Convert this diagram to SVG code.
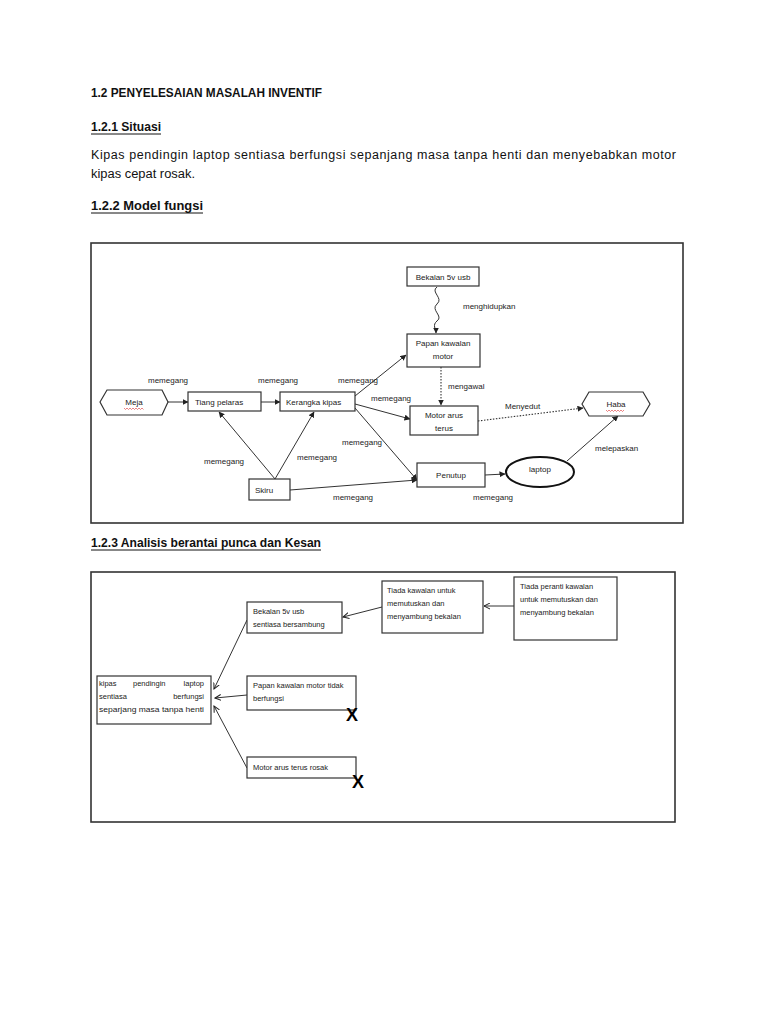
<svg xmlns="http://www.w3.org/2000/svg" width="768" height="1024" viewBox="0 0 768 1024">
<defs>
<style>
.t{font-family:"Liberation Sans",Arial,sans-serif;fill:#111}
.h{font-size:12.5px;font-weight:bold}
.p{font-size:12.5px}
.s{font-size:8px;fill:#222}
.b{font-size:8px;fill:#222}
.c{font-size:7.5px;fill:#222}
.box{fill:#fff;stroke:#333;stroke-width:1.2}
.frame{fill:none;stroke:#333;stroke-width:1.6}
.ln{fill:none;stroke:#333;stroke-width:1}
.dot{fill:none;stroke:#333;stroke-width:1.1;stroke-dasharray:1.5 1.5}
.ul{stroke:#111;stroke-width:1}
.sq{fill:none;stroke:#d33;stroke-width:0.6}
.x{font-family:"Liberation Sans",Arial,sans-serif;font-size:18px;font-weight:bold;fill:#000}
</style>
<marker id="af" markerWidth="6" markerHeight="6" refX="5.5" refY="3" orient="auto" markerUnits="userSpaceOnUse">
<path d="M0,0 L6,3 L0,6 Z" fill="#222"/>
</marker>
<marker id="ao" markerWidth="7" markerHeight="7" refX="6" refY="3.5" orient="auto" markerUnits="userSpaceOnUse">
<path d="M0,0.5 L6,3.5 L0,6.5" fill="none" stroke="#222" stroke-width="1"/>
</marker>
</defs>
<rect width="768" height="1024" fill="#fff"/>

<g id="headings">
<text class="t h" x="91" y="97" textLength="231" lengthAdjust="spacingAndGlyphs">1.2 PENYELESAIAN MASALAH INVENTIF</text>
<text class="t h" x="91" y="131" textLength="70" lengthAdjust="spacingAndGlyphs">1.2.1 Situasi</text>
<line class="ul" x1="91" y1="134" x2="161" y2="134"/>
<text class="t p" x="91" y="159" textLength="585" lengthAdjust="spacing">Kipas pendingin laptop sentiasa berfungsi sepanjang masa tanpa henti dan menyebabkan motor</text>
<text class="t p" x="91" y="178" textLength="104" lengthAdjust="spacingAndGlyphs">kipas cepat rosak.</text>
<text class="t h" x="91" y="210" textLength="112" lengthAdjust="spacingAndGlyphs">1.2.2  Model fungsi</text>
<line class="ul" x1="91" y1="213" x2="203" y2="213"/>
<text class="t h" x="91" y="547" textLength="230" lengthAdjust="spacingAndGlyphs">1.2.3  Analisis berantai punca dan Kesan</text>
<line class="ul" x1="91" y1="550" x2="321" y2="550"/>
</g>

<rect class="frame" x="91" y="243" width="592" height="280"/>
<rect class="frame" x="91" y="572" width="584" height="250"/>

<g id="connectors">
<line class="ln" x1="167" y1="402" x2="188" y2="402" marker-end="url(#af)"/>
<line class="ln" x1="261" y1="402" x2="280" y2="402" marker-end="url(#af)"/>
<line class="ln" x1="355" y1="396" x2="406" y2="355" marker-end="url(#af)"/>
<line class="ln" x1="355" y1="404" x2="410" y2="419" marker-end="url(#af)"/>
<line class="ln" x1="355" y1="408" x2="417" y2="480" marker-end="url(#af)"/>
<line class="ln" x1="275" y1="479" x2="219" y2="412" marker-end="url(#af)"/>
<line class="ln" x1="275" y1="479" x2="314" y2="412" marker-end="url(#af)"/>
<line class="ln" x1="290" y1="490" x2="417" y2="480" marker-end="url(#af)"/>
<line class="ln" x1="485" y1="475" x2="505" y2="474" marker-end="url(#af)"/>
<line class="ln" x1="567" y1="461" x2="618" y2="416" marker-end="url(#af)"/>
<path class="ln" d="M437,287 C430,292 444,298 437,304 C430,310 444,316 437,321 C432,325 436,329 436,333" marker-end="url(#af)"/>
<line class="dot" x1="441" y1="367" x2="441" y2="405" marker-end="url(#af)"/>
<line class="dot" x1="478" y1="421" x2="583" y2="408" marker-end="url(#af)"/>

<line class="ln" x1="514" y1="606" x2="484" y2="606" marker-end="url(#ao)"/>
<line class="ln" x1="382" y1="607" x2="343" y2="617" marker-end="url(#ao)"/>
<line class="ln" x1="247" y1="620" x2="214" y2="689" marker-end="url(#ao)"/>
<line class="ln" x1="247" y1="695" x2="215" y2="698" marker-end="url(#ao)"/>
<line class="ln" x1="247" y1="768" x2="214" y2="706" marker-end="url(#ao)"/>
</g>

<g id="edge-labels">
<text class="t s" x="148" y="383">memegang</text>
<text class="t s" x="258" y="383">memegang</text>
<text class="t s" x="338" y="383">memegang</text>
<text class="t s" x="371" y="401">memegang</text>
<text class="t s" x="342" y="445">memegang</text>
<text class="t s" x="204" y="464">memegang</text>
<text class="t s" x="297" y="460">memegang</text>
<text class="t s" x="333" y="500">memegang</text>
<text class="t s" x="473" y="500">memegang</text>
<text class="t s" x="463" y="309">menghidupkan</text>
<text class="t s" x="448" y="389">mengawal</text>
<text class="t s" x="505" y="409">Menyedut</text>
<text class="t s" x="595" y="451">melepaskan</text>
</g>

<g id="meja">
<polygon class="box" points="100,402 107,390 162,390 168,402 162,415 107,415"/>
<text class="t b" x="134" y="405" text-anchor="middle">Meja</text>
<path class="sq" d="M124,408 l1.5,1.5 l1.5,-1.5 l1.5,1.5 l1.5,-1.5 l1.5,1.5 l1.5,-1.5 l1.5,1.5 l1.5,-1.5 l1.5,1.5 l1.5,-1.5 l1.5,1.5 l1.5,-1.5 l1.5,1.5"/>
</g>
<g id="tiang-pelaras">
<rect class="box" x="188" y="392" width="73" height="19"/>
<text class="t b" x="195" y="405">Tiang pelaras</text>
</g>
<g id="kerangka-kipas">
<rect class="box" x="280" y="392" width="75" height="19"/>
<text class="t b" x="286" y="405">Kerangka kipas</text>
</g>
<g id="bekalan-5v-usb">
<rect class="box" x="407" y="267" width="72" height="19"/>
<text class="t b" x="443" y="280" text-anchor="middle">Bekalan 5v usb</text>
</g>
<g id="papan-kawalan-motor">
<rect class="box" x="407" y="334" width="73" height="33"/>
<text class="t b" x="443" y="346" text-anchor="middle">Papan kawalan</text>
<text class="t b" x="443" y="359" text-anchor="middle">motor</text>
</g>
<g id="motor-arus-terus">
<rect class="box" x="410" y="406" width="68" height="29"/>
<text class="t b" x="444" y="418" text-anchor="middle">Motor arus</text>
<text class="t b" x="444" y="431" text-anchor="middle">terus</text>
</g>
<g id="haba">
<polygon class="box" points="582,404 589,392 643,392 650,404 643,416 589,416"/>
<text class="t b" x="616" y="407" text-anchor="middle">Haba</text>
<path class="sq" d="M606,410 l1.5,1.5 l1.5,-1.5 l1.5,1.5 l1.5,-1.5 l1.5,1.5 l1.5,-1.5 l1.5,1.5 l1.5,-1.5 l1.5,1.5 l1.5,-1.5 l1.5,1.5 l1.5,-1.5"/>
</g>
<g id="skiru">
<rect class="box" x="249" y="479" width="41" height="21"/>
<text class="t b" x="255" y="493">Skiru</text>
</g>
<g id="penutup">
<rect class="box" x="417" y="463" width="68" height="24"/>
<text class="t b" x="451" y="478" text-anchor="middle">Penutup</text>
</g>
<g id="laptop">
<ellipse cx="540" cy="472" rx="34" ry="15" fill="#fff" stroke="#111" stroke-width="2"/>
<text class="t b" x="540" y="472" text-anchor="middle">laptop</text>
</g>

<g id="kipas-pendingin">
<rect class="box" x="97" y="676" width="114" height="48"/>
<text class="t c" y="686"><tspan x="99">kipas</tspan><tspan x="133">pendingin</tspan><tspan x="204" text-anchor="end">laptop</tspan></text>
<text class="t c" y="699"><tspan x="99">sentiasa</tspan><tspan x="204" text-anchor="end">berfungsi</tspan></text>
<text class="t c" x="99" y="712" textLength="105" lengthAdjust="spacingAndGlyphs">separjang masa tanpa henti</text>
</g>
<g id="bekalan-bersambung">
<rect class="box" x="247" y="602" width="95" height="31"/>
<text class="t c" x="253" y="614">Bekalan 5v usb</text>
<text class="t c" x="253" y="627">sentiasa bersambung</text>
</g>
<g id="papan-tidak-berfungsi">
<rect class="box" x="247" y="676" width="109" height="34"/>
<text class="t c" x="253" y="688">Papan kawalan motor tidak</text>
<text class="t c" x="253" y="701">berfungsi</text>
<text class="x" x="346" y="721">X</text>
</g>
<g id="motor-rosak">
<rect class="box" x="247" y="757" width="109" height="21"/>
<text class="t c" x="253" y="770">Motor arus terus rosak</text>
<text class="x" x="352" y="788">X</text>
</g>
<g id="tiada-kawalan">
<rect class="box" x="382" y="581" width="101" height="52"/>
<text class="t c" x="387" y="593">Tiada kawalan untuk</text>
<text class="t c" x="387" y="606">memutuskan dan</text>
<text class="t c" x="387" y="619">menyambung  bekalan</text>
</g>
<g id="tiada-peranti">
<rect class="box" x="514" y="577" width="103" height="63"/>
<text class="t c" x="520" y="589">Tiada peranti kawalan</text>
<text class="t c" x="520" y="602">untuk memutuskan dan</text>
<text class="t c" x="520" y="615">menyambung  bekalan</text>
</g>
</svg>
